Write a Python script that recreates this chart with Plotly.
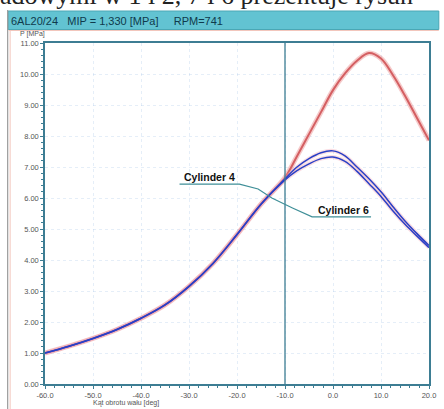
import plotly.graph_objects as go

# ---- data ----
ANGLE = [-60, -55, -50, -45, -40, -35, -30, -25, -20, -15, -10,
         -7.5, -5, -2.5, 0, 2.5, 5, 7.5, 10, 12.5, 15, 17.5, 20]
P_RED = [1.00, 1.22, 1.47, 1.76, 2.12, 2.55, 3.15, 3.89, 4.82, 5.80, 6.66,
         7.35, 8.06, 8.77, 9.48, 10.02, 10.43, 10.68, 10.50, 9.96, 9.30, 8.58, 7.86]
P_CYL4 = [1.00, 1.22, 1.47, 1.76, 2.12, 2.55, 3.15, 3.89, 4.82, 5.80, 6.62,
          7.00, 7.27, 7.46, 7.52, 7.36, 7.00, 6.62, 6.20, 5.72, 5.26, 4.85, 4.47]
P_CYL6 = [1.00, 1.22, 1.47, 1.76, 2.12, 2.55, 3.15, 3.89, 4.82, 5.80, 6.58,
          6.88, 7.10, 7.27, 7.32, 7.18, 6.86, 6.46, 6.05, 5.58, 5.15, 4.77, 4.40]

X_TICKS = [-60, -50, -40, -30, -20, -10, 0, 10, 20]
X_LABELS = ["-60.0", "-50.0", "-40.0", "-30.0", "-20.0", "-10.0", "0.0", "10.0", "20.0"]
Y_TICKS = [0, 1, 2, 3, 4, 5, 6, 7, 8, 9, 10, 11]
Y_LABELS = ["0.00", "1.00", "2.00", "3.00", "4.00", "5.00", "6.00", "7.00",
            "8.00", "9.00", "10.00", "11.00"]
MARKER_ANGLE = -10

TITLE = "6AL20/24\u00a0\u00a0\u00a0MIP = 1,330 [MPa]\u00a0\u00a0\u00a0\u00a0\u00a0RPM=741"
TOP_TEXT = "adowymi w 1 i 2, 7 i 6 prezentuje rysun"

AX = "#3d7d93"
FONT = "Liberation Sans"

fig = go.Figure()

# red (combustion) curve
fig.add_trace(go.Scatter(x=ANGLE, y=P_RED, mode="lines", line_shape="spline",
                         line=dict(color="rgba(235,150,150,0.5)", width=5),
                         hoverinfo="skip", showlegend=False))
fig.add_trace(go.Scatter(x=ANGLE, y=P_RED, mode="lines", line_shape="spline",
                         line=dict(color="#d45f62", width=2),
                         name="Cylinder", showlegend=False))
# blue curves with pink halo
for ys in (P_CYL4, P_CYL6):
    fig.add_trace(go.Scatter(x=ANGLE, y=ys, mode="lines", line_shape="spline",
                             line=dict(color="rgba(240,160,175,0.35)", width=4),
                             hoverinfo="skip", showlegend=False))
for ys, nm in ((P_CYL4, "Cylinder 4"), (P_CYL6, "Cylinder 6")):
    fig.add_trace(go.Scatter(x=ANGLE, y=ys, mode="lines", line_shape="spline",
                             line=dict(color="#2a40c6", width=1.5),
                             name=nm, showlegend=False))

W, H = 444, 409
L, R, T, B = 45, 8, 43, 25
PW, PH = W - L - R, H - T - B


def px(xp):
    return (xp - L) / PW


def py(yp):
    return (H - B - yp) / PH


shapes = [
    # window border and frame
    dict(type="line", xref="paper", yref="paper", x0=px(7), x1=px(7), y0=py(412), y1=py(10),
         line=dict(color="#9a9a9a", width=1.2)),
    dict(type="line", xref="paper", yref="paper", x0=px(9.5), x1=px(9.5), y0=py(412), y1=py(30),
         line=dict(color="#f2c6bc", width=1)),
    dict(type="rect", xref="paper", yref="paper", x0=px(7.5), x1=px(446), y0=py(29.5), y1=py(11),
         fillcolor="#62c3d2", line=dict(color="#4aa7b5", width=1), layer="below"),
    dict(type="line", xref="paper", yref="paper", x0=px(8), x1=px(446), y0=py(30.5), y1=py(30.5),
         line=dict(color="#f2c6bc", width=1)),
    # vertical marker line
    dict(type="line", xref="x", yref="y", x0=MARKER_ANGLE, x1=MARKER_ANGLE, y0=0, y1=11,
         line=dict(color=AX, width=1.3)),
    # callout underlines / leader
    dict(type="path", xref="x", yref="y",
         path="M -31.97,6.45 L -19.49,6.45 L -15.6,6.29 L -12.74,6.0 L -8.44,5.68 "
              "L -4.35,5.39 L 7.93,5.39",
         line=dict(color="#3f8f98", width=1.2)),
]

annotations = [
    dict(text=TOP_TEXT, xref="paper", yref="paper", x=px(-3), y=py(11.5), xanchor="left",
         yanchor="bottom", showarrow=False,
         font=dict(family="Liberation Serif", size=26, color="#222")),
    dict(text=TITLE, xref="paper", yref="paper", x=px(8), y=py(20.5), xanchor="left",
         yanchor="middle", showarrow=False,
         font=dict(family=FONT, size=11, color="#0f3a4c")),
    dict(text="P [MPa]", xref="paper", yref="paper", x=px(18), y=py(34), xanchor="left",
         yanchor="middle", showarrow=False,
         font=dict(family=FONT, size=7, color="#555")),
    dict(text="Kąt obrotu wału [deg]", xref="paper", yref="paper", x=px(92), y=py(402.5),
         xanchor="left", yanchor="middle", showarrow=False,
         font=dict(family=FONT, size=7, color="#555")),
    dict(text="<b>Cylinder 4</b>", xref="x", yref="y", x=-25.63, y=6.68, showarrow=False,
         font=dict(family=FONT, size=10.5, color="#111")),
    dict(text="<b>Cylinder 6</b>", xref="x", yref="y", x=2.2, y=5.6, showarrow=False,
         font=dict(family=FONT, size=10.5, color="#111")),
]

grid = "rgba(160,195,230,0.28)"
fig.update_xaxes(range=[-60, 20], tickmode="array", tickvals=X_TICKS, ticktext=X_LABELS,
                 showline=True, linecolor=AX, linewidth=1.5, mirror=True,
                 ticks="outside", ticklen=3, tickcolor=AX, tickwidth=1,
                 minor=dict(tickmode="linear", tick0=-60, dtick=2, ticks="outside",
                            ticklen=2, tickcolor=AX, showgrid=False),
                 showgrid=True, gridcolor=grid, griddash="dot", zeroline=False,
                 tickfont=dict(family=FONT, size=7.5, color="#555"))
fig.update_yaxes(range=[0, 11], tickmode="array", tickvals=Y_TICKS, ticktext=Y_LABELS,
                 showline=True, linecolor=AX, linewidth=1.5, mirror=True,
                 ticks="outside", ticklen=3, tickcolor=AX, tickwidth=1,
                 minor=dict(tickmode="linear", tick0=0, dtick=0.2, ticks="outside",
                            ticklen=2, tickcolor=AX, showgrid=False),
                 showgrid=True, gridcolor=grid, griddash="dot", zeroline=False,
                 tickfont=dict(family=FONT, size=7.5, color="#555"))

fig.update_layout(width=W, height=H, margin=dict(l=L, r=R, t=T, b=B, pad=0),
                  paper_bgcolor="white", plot_bgcolor="white",
                  shapes=shapes, annotations=annotations, showlegend=False)

fig.write_html("out.html", config={"displayModeBar": False},
               post_script="document.body.style.margin='0';document.body.style.overflow='hidden';")
